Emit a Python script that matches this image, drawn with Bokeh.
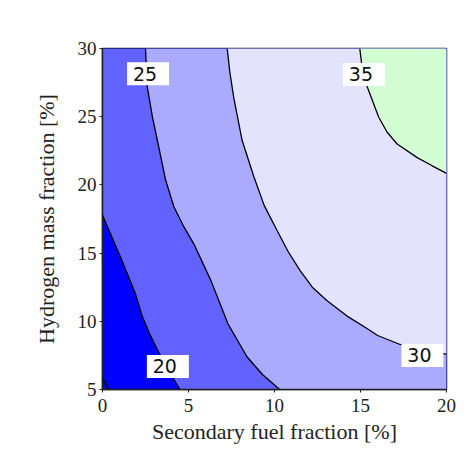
from bokeh.plotting import figure
from bokeh.models import Range1d, FixedTicker
from bokeh.core.properties import value
from bokeh.embed import file_html
from bokeh.resources import INLINE

# axis extents and ticks
X_MIN, X_MAX = 0, 20
Y_MIN, Y_MAX = 5, 30
X_TICKS = [0, 5, 10, 15, 20]
Y_TICKS = [5, 10, 15, 20, 25, 30]

# contour lines (x = secondary fuel %, y = hydrogen %)
LEVELS = [15, 20, 25, 30, 35]
C15_X = [0.0, 0.37]
C15_Y = [5.9, 5.0]
C20_X = [0.0, 0.5, 1.05, 1.5, 1.92, 2.3, 2.7, 3.2, 3.8, 4.5]
C20_Y = [17.8, 16.3, 14.7, 13.3, 12.0, 10.4, 9.2, 7.9, 6.5, 5.0]
C25_X = [2.5, 2.6, 2.9, 3.2, 3.66, 4.15, 4.7, 5.3, 6.3, 7.3, 8.4, 9.3, 10.3]
C25_Y = [30.0, 27.2, 25.0, 23.2, 20.4, 18.4, 17.0, 15.7, 13.0, 9.8, 7.4, 6.1, 5.0]
C30_X = [7.25, 7.4, 7.63, 8.12, 8.8, 9.4, 10.15, 10.8, 11.5, 12.2, 13.06, 14.2, 15.4, 16.0, 17.3, 18.5, 20.0]
C30_Y = [30.0, 28.3, 26.4, 23.25, 20.6, 18.5, 16.66, 15.1, 13.7, 12.5, 11.5, 10.4, 9.45, 8.96, 8.3, 7.9, 7.6]
C35_X = [14.96, 15.1, 15.39, 16.06, 16.55, 17.13, 18.3, 19.17, 20.0]
C35_Y = [30.0, 28.5, 27.2, 24.96, 23.86, 23.0, 22.0, 21.4, 20.85]

# band colours: below 15, 15-20, 20-25, 25-30, 30-35, above 35
BAND_COLORS = ["#0000e4", "#0000ff", "#6262ff", "#aaaaff", "#e3e3fd", "#d3fdd3"]

# contour labels
LABEL_TEXT = ["20", "25", "30", "35"]
LABEL_X = [3.8, 2.65, 18.6, 15.2]
LABEL_Y = [6.69, 28.15, 7.5, 28.1]

p = figure(width=460, height=460, output_backend="svg", toolbar_location=None,
           x_range=Range1d(X_MIN, X_MAX), y_range=Range1d(Y_MIN, Y_MAX),
           min_border_left=102, min_border_right=14, min_border_top=48,
           min_border_bottom=71)
p.background_fill_color = BAND_COLORS[0]
p.border_fill_color = "white"
p.grid.visible = False
p.outline_line_color = "#222222"
p.outline_line_width = 1.5

# filled bands (each "above level" region drawn on top of the previous)
p.patch(C15_X + [X_MAX, X_MAX, X_MIN], C15_Y + [Y_MIN, Y_MAX, Y_MAX],
        fill_color=BAND_COLORS[1], line_color=None)
p.patch(C20_X + [X_MAX, X_MAX, X_MIN], C20_Y + [Y_MIN, Y_MAX, Y_MAX],
        fill_color=BAND_COLORS[2], line_color=None)
p.patch(C25_X + [X_MAX, X_MAX], C25_Y + [Y_MIN, Y_MAX],
        fill_color=BAND_COLORS[3], line_color=None)
p.patch(C30_X + [X_MAX], C30_Y + [Y_MAX],
        fill_color=BAND_COLORS[4], line_color=None)
p.patch(C35_X + [X_MAX], C35_Y + [Y_MAX],
        fill_color=BAND_COLORS[5], line_color=None)

for cx, cy in [(C15_X, C15_Y), (C20_X, C20_Y), (C25_X, C25_Y), (C30_X, C30_Y), (C35_X, C35_Y)]:
    p.line(cx, cy, line_color="black", line_width=1.3)

p.rect(LABEL_X, LABEL_Y, width=42, height=23, width_units="screen",
       height_units="screen", fill_color="white", line_color=None)
p.text(LABEL_X, LABEL_Y, text=LABEL_TEXT, x_offset=-3,
       text_font=value("DejaVu Sans"), text_font_size="19px",
       text_align="center", text_baseline="middle", text_color="#111111")

for ax in (p.xaxis[0], p.yaxis[0]):
    ax.axis_line_color = "#222222"
    ax.axis_line_width = 1.5
    ax.major_tick_line_color = "#222222"
    ax.major_tick_in = 0
    ax.major_tick_out = 3
    ax.minor_tick_line_color = None
    ax.major_label_text_font = "Liberation Serif"
    ax.major_label_text_font_size = "19px"
    ax.major_label_text_color = "#222222"
    ax.axis_label_text_font = "Liberation Serif"
    ax.axis_label_text_font_size = "22px"
    ax.axis_label_text_font_style = "normal"
    ax.axis_label_text_color = "#222222"

p.xaxis.ticker = FixedTicker(ticks=X_TICKS)
p.yaxis.ticker = FixedTicker(ticks=Y_TICKS)
p.xaxis.axis_label = "Secondary fuel fraction [%]"
p.yaxis.axis_label = "Hydrogen mass fraction [%]"
p.xaxis.major_label_standoff = 6
p.yaxis.major_label_standoff = 3
p.xaxis.axis_label_standoff = 4
p.yaxis.axis_label_standoff = 16

open("out.html", "w").write(file_html(p, INLINE))
